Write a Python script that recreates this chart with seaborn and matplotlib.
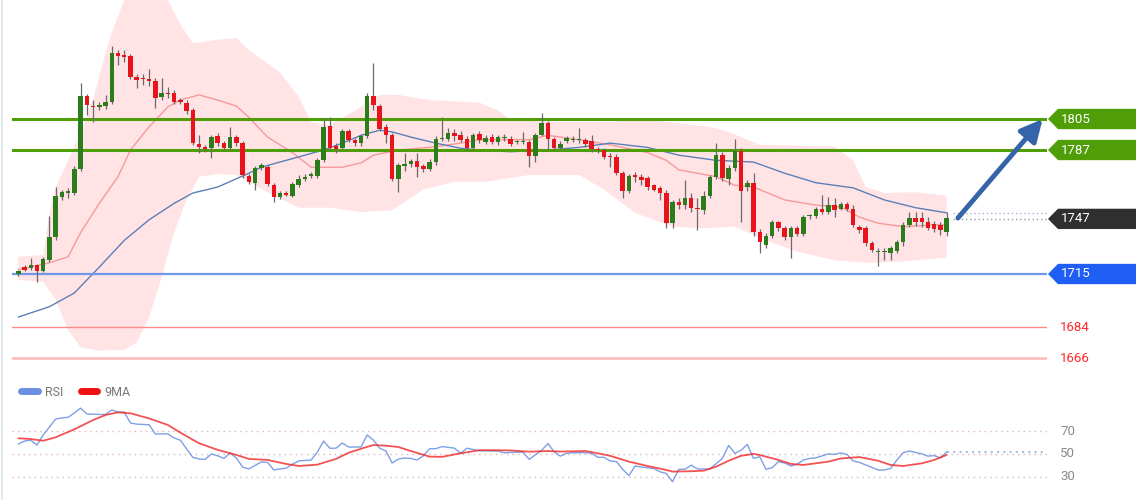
import numpy as np
import pandas as pd
import matplotlib
matplotlib.use("Agg")
import matplotlib.pyplot as plt
import matplotlib.transforms as mtransforms
from matplotlib.lines import Line2D
from matplotlib.patches import Polygon
import seaborn as sns

# candles (price)
opens = [1715, 1719, 1718.5, 1720, 1717, 1723, 1736.5, 1759.5, 1762, 1762,
         1776, 1818.5, 1812.5, 1812, 1812.5, 1815, 1843.5, 1842, 1841.5, 1829.5,
         1828.5, 1828, 1827, 1818, 1820, 1820, 1816, 1814.5, 1810, 1790.5,
         1788.5, 1788, 1795, 1791, 1788, 1794.5, 1791, 1772, 1768, 1776.5,
         1777, 1766.5, 1759.5, 1762, 1760.5, 1766.5, 1770, 1772, 1772, 1781,
         1801, 1789.5, 1788, 1798, 1793, 1791, 1795, 1818.5, 1812.5, 1800.5,
         1795.5, 1770, 1777.5, 1779, 1780.5, 1777.5, 1776, 1780, 1793.5, 1793.5,
         1797, 1795.5, 1793.5, 1788, 1796.5, 1791.5, 1794.5, 1791.5, 1794, 1793.5,
         1791.5, 1791.5, 1791.5, 1783.5, 1795.5, 1802.5, 1793.5, 1788, 1792, 1793,
         1793, 1793, 1792, 1787.5, 1787, 1783.5, 1783, 1773.5, 1763, 1772.5,
         1771.5, 1770.5, 1766.5, 1765, 1762, 1744.5, 1757, 1755, 1759, 1753.5,
         1752, 1760.5, 1771.5, 1784, 1770, 1776.5, 1786.5, 1765.5, 1768, 1739.5,
         1732, 1737, 1745, 1741.5, 1736.5, 1741.5, 1738, 1748.5, 1748.5, 1752.5,
         1751, 1755, 1753, 1755.5, 1753, 1742, 1741.5, 1733, 1728, 1728,
         1727, 1728.5, 1733.5, 1743.5, 1747.5, 1747.5, 1745, 1744, 1743.5, 1739.5]
highs = [1717.5, 1720, 1724, 1721, 1725, 1748.5, 1765.5, 1764, 1765, 1777.5,
         1826, 1819.5, 1816, 1815, 1819, 1847.5, 1845, 1845, 1843, 1831,
         1831, 1834, 1829, 1829, 1823.5, 1822, 1817, 1816, 1811.5, 1795.5,
         1790, 1796, 1797, 1792, 1800.5, 1796, 1792, 1773, 1777.5, 1779.5,
         1778.5, 1768, 1763, 1763, 1768.5, 1772.5, 1773, 1774.5, 1782.5, 1805.5,
         1806, 1791, 1799, 1799, 1794, 1796.5, 1820, 1837.5, 1814, 1802,
         1797, 1779.5, 1785.5, 1782, 1785.5, 1779, 1781.5, 1795, 1806, 1799.5,
         1799, 1798, 1795, 1797, 1798, 1796, 1796.5, 1796, 1796.5, 1795,
         1793, 1797.5, 1793, 1797, 1808.5, 1804, 1794.5, 1792, 1795, 1795,
         1800, 1794, 1796, 1789, 1788, 1785, 1784.5, 1775, 1773, 1774,
         1773, 1772, 1767.5, 1766, 1763.5, 1758, 1759, 1769.5, 1762, 1759,
         1763, 1772.5, 1791, 1786, 1778, 1793.5, 1788, 1769.5, 1773.5, 1741,
         1739, 1746.5, 1746, 1743, 1743, 1743, 1749.5, 1750, 1754, 1761,
         1759.5, 1759, 1757, 1757, 1755, 1743.5, 1743, 1734, 1730, 1730,
         1731.5, 1734.5, 1745, 1751, 1751, 1751, 1748, 1746, 1745, 1751]
lows = [1714, 1717, 1717.5, 1710.5, 1716, 1722, 1735, 1758, 1759, 1761,
        1775, 1807.5, 1803.5, 1810, 1811, 1814, 1836.5, 1838, 1828, 1823,
        1825, 1824, 1811.5, 1816, 1817, 1813.5, 1813.5, 1808, 1790, 1785.5,
        1786, 1782.5, 1789.5, 1787, 1787, 1789.5, 1771, 1767, 1764, 1775.5,
        1766, 1757, 1758.5, 1760, 1759.5, 1765.5, 1769, 1770.5, 1771, 1780,
        1787, 1785.5, 1787, 1791.5, 1789.5, 1789.5, 1794, 1810, 1798, 1791,
        1769, 1762.5, 1775, 1777, 1771.5, 1774.5, 1775, 1778.5, 1792, 1792,
        1792, 1791.5, 1787, 1787, 1791, 1790.5, 1790.5, 1790, 1792, 1789.5,
        1790.5, 1790.5, 1777, 1780, 1795, 1787, 1787, 1787.5, 1791, 1791.5,
        1791, 1789, 1786, 1785.5, 1781.5, 1777, 1772.5, 1759, 1762, 1768.5,
        1766.5, 1764, 1763, 1758, 1741.5, 1741.5, 1753, 1753, 1751, 1740.5,
        1750, 1759, 1770, 1769, 1766.5, 1775, 1745, 1763, 1737, 1727,
        1730, 1736, 1740, 1735, 1724.5, 1737, 1737, 1747, 1747.5, 1750,
        1750, 1748, 1752, 1751.5, 1742, 1739, 1731, 1727.5, 1719.5, 1723,
        1723, 1727, 1731, 1742, 1743, 1742.5, 1740.5, 1739.5, 1737.5, 1737]
closes = [1716.5, 1717.5, 1720, 1717, 1723.5, 1736.5, 1760, 1762.5, 1763, 1776,
          1818.5, 1813, 1812, 1813, 1815, 1843.5, 1841.5, 1841, 1829.5, 1827.5,
          1828, 1827, 1817, 1820, 1819.5, 1815, 1815, 1809.5, 1791, 1788.5,
          1787.5, 1794.5, 1791, 1788, 1794.5, 1791, 1772.5, 1768.5, 1776.5, 1778.5,
          1767.5, 1759.5, 1762, 1761, 1767.5, 1770, 1771.5, 1773, 1781, 1800.5,
          1788, 1787.5, 1798, 1793, 1791, 1795, 1818.5, 1813, 1799, 1795.5,
          1770, 1778.5, 1779, 1780.5, 1777, 1776, 1780, 1793.5, 1794, 1797,
          1795, 1793, 1788, 1795.5, 1793, 1794, 1791.5, 1794.5, 1794.5, 1790.5,
          1792, 1792, 1783.5, 1795.5, 1802.5, 1793.5, 1788, 1790.5, 1794, 1793.5,
          1793.5, 1790.5, 1787.5, 1787, 1783, 1783, 1773.5, 1763, 1772, 1771.5,
          1769.5, 1765.5, 1764, 1762, 1744.5, 1757, 1755, 1759, 1753.5, 1752.5,
          1760.5, 1771.5, 1784, 1770.5, 1776.5, 1786.5, 1763, 1768, 1739.5, 1733.5,
          1737, 1745, 1741.5, 1736.5, 1741.5, 1738, 1748, 1748.5, 1752.5, 1751,
          1755, 1752, 1755.5, 1753, 1743.5, 1740.5, 1733, 1729, 1728, 1728,
          1730, 1733.5, 1743.5, 1747.5, 1745, 1745, 1741.5, 1741, 1740.5, 1747.5]

bb_up_idx = [0, 4, 5, 6, 8, 10, 12, 14, 15, 17, 19, 21, 23, 24, 26, 28, 32, 35, 37, 42,
             45, 47, 50, 55, 58, 61, 66, 74, 77, 79, 85, 95, 101, 111, 114, 119, 131, 134,
             136, 139, 144, 149]
bb_up = [1725, 1726, 1750, 1765.5, 1781, 1797, 1816, 1843, 1855, 1874, 1895, 1900, 1885,
         1874, 1860, 1849, 1851, 1852, 1845, 1832, 1818, 1803, 1801.5, 1812, 1819, 1819,
         1816, 1814.5, 1810, 1804.5, 1803.5, 1803.5, 1804.5, 1800.5, 1797.5, 1790, 1789,
         1781, 1765.5, 1762, 1762.5, 1760.5]
bb_lo_idx = [0, 4, 6, 8, 10, 13, 17, 19, 21, 23, 25, 27, 29, 32, 35, 40, 45, 50, 55, 60,
             65, 70, 75, 82, 90, 94, 99, 105, 110, 115, 120, 125, 131, 136, 141, 149]
bb_lo = [1711.5, 1710.5, 1700, 1682.5, 1672.5, 1670.5, 1671, 1675, 1690, 1713, 1739, 1758,
         1771.5, 1773, 1772.5, 1762.5, 1753.5, 1753.5, 1751, 1752, 1764, 1768.5, 1768.5,
         1772.5, 1772.5, 1764, 1750.5, 1742.5, 1741.5, 1742.5, 1734.5, 1728, 1723, 1721.5,
         1722, 1724.5]
ma20_idx = [0, 5, 8, 10, 13, 16, 18, 21, 24, 26, 29, 32, 35, 37, 40, 44, 47, 52, 55, 57,
            61, 66, 71, 74, 82, 85, 90, 95, 101, 104, 106, 112, 115, 118, 123, 128, 132,
            135, 138, 142, 147, 149]
ma20 = [1717.5, 1721.5, 1725, 1739, 1756, 1771.5, 1787, 1800.5, 1812, 1816, 1819, 1816,
        1812.5, 1806, 1794.5, 1785.5, 1777, 1777, 1779.5, 1784, 1787, 1788.5, 1791, 1793,
        1793, 1795.5, 1793, 1790, 1785.5, 1781, 1775.5, 1771.5, 1766.5, 1765.5, 1758, 1755,
        1754, 1748, 1744.5, 1742.5, 1743.5, 1743.5]
ma50_idx = [0, 5, 9, 13, 17, 21, 25, 28, 32, 37, 39, 45, 49, 52, 55, 58, 60, 63, 67, 71,
            74, 79, 85, 90, 95, 101, 106, 112, 118, 123, 128, 134, 139, 144, 149]
ma50 = [1690, 1696, 1704, 1719, 1734.5, 1746.5, 1756, 1762, 1765.5, 1773.5, 1777, 1783,
        1787, 1791, 1795.5, 1798.5, 1797.5, 1794.5, 1791, 1788, 1787, 1786, 1787, 1788.5,
        1791, 1788.5, 1784, 1781, 1780, 1773.5, 1768, 1765, 1758, 1753.5, 1750.5]

# RSI panel
rsi_idx = [0, 1, 2, 3, 4, 6, 7, 8, 9, 10, 11, 13, 14, 15, 16, 17, 18, 19, 21, 22,
           24, 25, 26, 28, 29, 30, 31, 32, 33, 34, 35, 36, 37, 39, 40, 41, 42, 43, 44, 45,
           47, 48, 49, 50, 51, 52, 53, 55, 56, 57, 58, 59, 60, 61, 62, 63, 64, 65, 66, 67,
           68, 70, 71, 72, 74, 75, 77, 78, 80, 81, 82, 84, 85, 86, 87, 88, 89, 90, 91, 92,
           93, 94, 95, 96, 97, 98, 99, 100, 102, 103, 104, 105, 106, 107, 108, 109, 111, 113,
           114, 115, 116, 117, 118, 119, 120, 121, 122, 123, 124, 125, 126, 127, 128, 129,
           130, 131, 132, 133, 134, 135, 137, 138, 139, 140, 141, 142, 143, 145, 146, 147,
           148, 149]
rsi = [58.6, 61.2, 62, 57.7, 66.5, 80.5, 81.4, 82, 85.8, 90, 84.9, 84.5, 84.5, 88.4, 86.6,
       86.6, 77, 76, 75.5, 67.4, 67.5, 63.9, 62, 47, 45.5, 45.2, 50, 48.3, 46, 50.8,
       46.4, 38.5, 36.8, 43, 42.5, 36, 36.8, 37.5, 41, 43.8, 44.6, 51.6, 61.2, 54.9, 55,
       59.5, 56, 56, 66.5, 62, 55, 52.5, 42, 45.5, 46.4, 46, 44.6, 48.3, 54.4, 54.5,
       56.4, 55, 50.5, 55, 52.7, 52.7, 52.5, 51, 51.5, 51.5, 45.2, 53.2, 59, 51.8, 48,
       50.5, 51, 51, 51, 50.5, 47, 47, 43.8, 43.2, 36.5, 31, 39.4, 38.5, 37.2, 34.3,
       32.9, 25.6, 36.5, 36.5, 40.2, 36.8, 36.8, 46, 57.4, 50.5, 53.2, 58.3, 46, 47.5,
       36.5, 38, 43.2, 42, 39.4, 41, 44.6, 46, 46.5, 48.3, 50, 49.5, 50.8, 49.5, 43.8,
       42.5, 38.2, 35.9, 35.9, 37.2, 44.6, 51, 52.5, 50, 48, 48.5, 46.4, 51.8]
ma9_idx = [0, 2, 4, 6, 9, 12, 14, 16, 18, 21, 24, 26, 29, 32, 35, 37, 40, 43, 45, 48,
           51, 53, 56, 57, 59, 61, 63, 66, 68, 71, 74, 77, 79, 82, 85, 87, 91, 93, 95, 98,
           101, 104, 105, 108, 110, 112, 114, 116, 118, 119, 122, 124, 126, 130, 132, 135,
           138, 140, 142, 145, 147, 149]
ma9 = [63.6, 63, 61.5, 64.5, 71.5, 79.6, 84, 86.3, 85.5, 81, 75.3, 68.6, 59.3, 53.5, 49.1,
       45.6, 44.7, 41.2, 39.4, 40.6, 45.6, 51, 56.2, 57.7, 57.2, 56, 52.5, 47.6, 47.4, 50.5,
       53.2, 53.2, 53, 51.9, 52.5, 52, 52.5, 50.5, 48.3, 43.2, 39.4, 35.9, 34.5, 34.8, 35.3,
       38.8, 44, 48.3, 50, 49, 44.7, 41.2, 40.3, 43.2, 46, 47.2, 44, 40.3, 39.4, 41.7, 44.7,
       49.1]

# support / resistance levels
res_levels = [1805, 1787]
last_price = 1747
sup_level = 1715
red_levels = [1684, 1666]
rsi_levels = [70, 50, 30]

GREEN = "#2b7d1c"
RED = "#e8141c"
LEVEL_GREEN = "#4f9e08"

sns.set_theme(style="white")
plt.rcParams["font.family"] = ["Roboto", "DejaVu Sans"]

df = pd.DataFrame({"o": opens, "h": highs, "l": lows, "c": closes})
df["i"] = np.arange(len(df))
df["up"] = df.c >= df.o

fig = plt.figure(figsize=(11.4, 5), dpi=100)
ax = fig.add_axes([12 / 1140, 125 / 500, 1035 / 1140, 375 / 500])
rax = fig.add_axes([12 / 1140, 2 / 500, 1035 / 1140, 103 / 500])
xlim = (-1.01, 165.1)

# bollinger band
band_x = np.r_[bb_up_idx, bb_lo_idx[::-1]]
band_y = np.r_[bb_up, bb_lo[::-1]]
ax.fill(band_x, band_y, color="#ffe3e5", lw=0, zorder=1)

sns.lineplot(x=ma20_idx, y=ma20, ax=ax, color="#f59a9a", lw=1, zorder=2)
sns.lineplot(x=ma50_idx, y=ma50, ax=ax, color="#5b80b8", lw=1, zorder=2)

# level lines
for lv in res_levels:
    ax.axhline(lv, color=LEVEL_GREEN, lw=2.2, zorder=3)
ax.axhline(sup_level, color="#6f97ea", lw=1.6, zorder=3)
ax.axhline(red_levels[0], color="#ff8a8a", lw=1, zorder=3)
ax.axhline(red_levels[1], color="#ffb8b8", lw=1.8, zorder=3)

# candles
ax.vlines(df.i, df.l, df.h, color="#6a6a6a", lw=0.9, zorder=4)
body_h = np.maximum((df.c - df.o).abs(), 0.6)
cols = np.where(df.up, GREEN, RED)
ax.bar(df.i, body_h, bottom=np.minimum(df.o, df.c), width=0.72, color=cols, lw=0, zorder=5)

# last price / ma extension
last_i = df.i.iloc[-1]
ax.hlines(last_price, last_i + 1, xlim[1], color="#9a9a9a", lw=1, ls=(0, (1, 2)), zorder=3)
ax.hlines(ma50[-1], last_i + 1, xlim[1], color="#9fb4d8", lw=1, ls=(0, (1, 2)), zorder=3)

# forecast arrow
ax.annotate("", xy=(164.4, res_levels[0]), xytext=(150.8, last_price + 0.5),
            arrowprops=dict(arrowstyle="-|>,head_length=1.1,head_width=0.55",
                            color="#3565a8", lw=3.5, shrinkA=0, shrinkB=0),
            zorder=6)

ax.set_xlim(*xlim)
ax.set_ylim(1656.35, 1874.1)
ax.axis("off")

# price tags on the right
tr = mtransforms.blended_transform_factory(fig.transFigure, ax.transData)
half = 5.9
tags = [(res_levels[0], LEVEL_GREEN), (res_levels[1], LEVEL_GREEN),
        (last_price, "#2f2f2f"), (sup_level, "#1f5ff5")]
for lv, col in tags:
    x0, x1, x2 = 1048 / 1140, 1058 / 1140, 1136 / 1140
    pts = [(x0, lv), (x1, lv + half), (x2, lv + half), (x2, lv - half), (x1, lv - half)]
    fig.add_artist(Polygon(pts, closed=True, transform=tr, color=col, lw=0, clip_on=False))
    fig.text(1061 / 1140, lv, str(lv), transform=tr, color="white", fontsize=9.5,
             va="center", ha="left")
for lv in red_levels:
    fig.text(1060 / 1140, lv, str(lv), transform=tr, color="#ff2a2a", fontsize=9.5,
             va="center", ha="left")

# RSI panel
for lv in rsi_levels:
    rax.axhline(lv, color="#dcb4b8", lw=1, ls=(0, (1, 3)), zorder=1)
sns.lineplot(x=rsi_idx, y=rsi, ax=rax, color="#7f9fe6", lw=1, zorder=2)
sns.lineplot(x=ma9_idx, y=ma9, ax=rax, color="#f02828", lw=1.3, alpha=0.8, zorder=3)
rax.hlines(rsi[-1], rsi_idx[-1], xlim[1], color="#a9bde8", lw=1.5, ls=(0, (1, 2)), zorder=2)
rax.set_xlim(*xlim)
rax.set_ylim(11.4, 101.5)
rax.axis("off")
tr2 = mtransforms.blended_transform_factory(fig.transFigure, rax.transData)
for lv in rsi_levels:
    fig.text(1060 / 1140, lv, str(lv), transform=tr2, color="#8a8a8a", fontsize=9.5,
             va="center", ha="left")

handles = [Line2D([], [], color="#6b8fe0", lw=5), Line2D([], [], color="#ee1111", lw=5)]
fig.legend(handles, ["RSI", "9MA"], loc="center left", bbox_to_anchor=(10 / 1140, 1 - 392 / 500),
           ncol=2, frameon=False, fontsize=9, labelcolor="#777777", handlelength=1.3,
           columnspacing=1.4, handletextpad=0.6)

fig.add_artist(Line2D([2 / 1140, 2 / 1140], [0, 1], color="#e2e9ef", lw=1.5,
                      transform=fig.transFigure))

fig.savefig("out.png", dpi=100)
